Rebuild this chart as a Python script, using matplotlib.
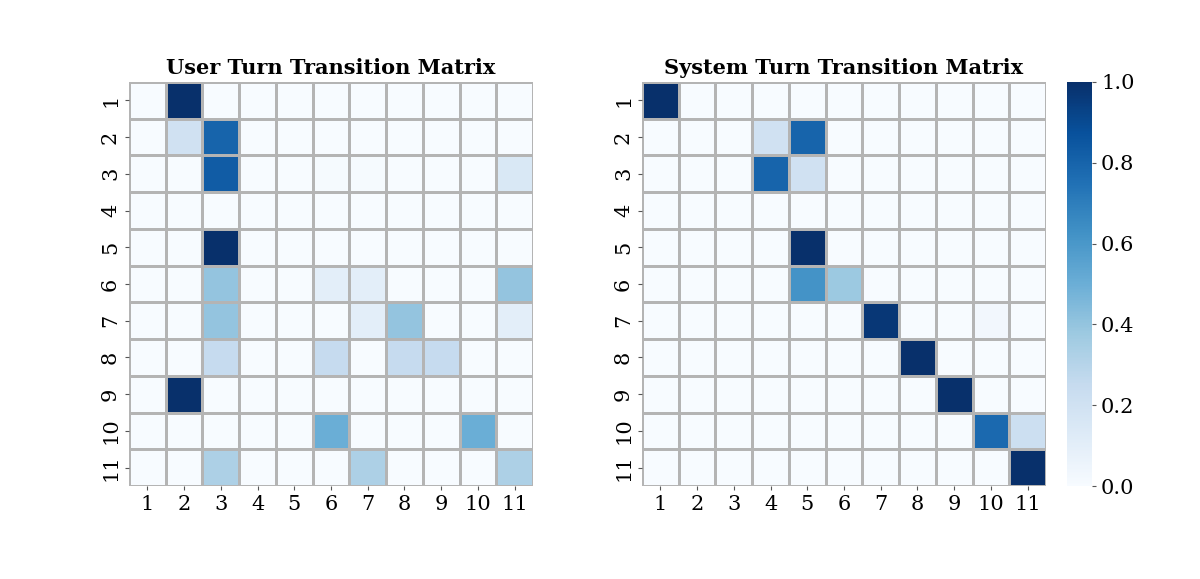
import numpy as np
import matplotlib
matplotlib.use('Agg')
import matplotlib.pyplot as plt
import seaborn as sns

# Labels for the 11 turn types
labels = [str(i) for i in range(1, 12)]

# User turn transition probabilities (row = from, col = to)
user_matrix = [
    [0, 1.0, 0, 0, 0, 0, 0, 0, 0, 0, 0],
    [0, 0.2, 0.8, 0, 0, 0, 0, 0, 0, 0, 0],
    [0, 0, 0.83, 0, 0, 0.01, 0.01, 0, 0, 0, 0.15],
    [0, 0, 0, 0, 0, 0, 0, 0, 0, 0, 0],
    [0, 0, 1.0, 0, 0, 0, 0, 0, 0, 0, 0],
    [0, 0, 0.4, 0, 0, 0.1, 0.1, 0, 0, 0, 0.4],
    [0, 0, 0.4, 0, 0, 0, 0.1, 0.4, 0, 0, 0.1],
    [0, 0, 0.25, 0, 0, 0.25, 0, 0.25, 0.25, 0, 0],
    [0, 1.0, 0, 0, 0, 0, 0, 0, 0, 0, 0],
    [0, 0, 0, 0, 0, 0.5, 0, 0, 0, 0.5, 0],
    [0, 0, 0.33, 0, 0, 0, 0.33, 0, 0, 0, 0.33],
]

# System turn transition probabilities
system_matrix = [
    [1.0, 0, 0, 0, 0, 0, 0, 0, 0, 0, 0],
    [0, 0, 0, 0.2, 0.8, 0, 0, 0, 0, 0, 0],
    [0, 0, 0, 0.8, 0.2, 0, 0, 0, 0, 0, 0],
    [0, 0, 0, 0, 0, 0, 0, 0, 0, 0, 0],
    [0, 0, 0, 0, 1.0, 0, 0, 0, 0, 0, 0],
    [0, 0, 0, 0, 0.62, 0.38, 0, 0, 0, 0, 0],
    [0, 0, 0, 0, 0, 0, 0.97, 0, 0, 0.03, 0],
    [0, 0, 0, 0, 0, 0, 0, 1.0, 0, 0, 0],
    [0, 0, 0, 0, 0, 0, 0, 0, 1.0, 0, 0],
    [0, 0, 0, 0, 0, 0, 0, 0, 0, 0.78, 0.22],
    [0, 0, 0, 0, 0, 0, 0, 0, 0, 0, 1.0],
]

plt.rcParams['font.family'] = ['DejaVu Serif']
plt.rcParams['font.size'] = 15

fig = plt.figure(figsize=(12, 5.79), dpi=100)
ax1 = fig.add_axes([0.1075, 0.1606, 0.3367, 0.6978])
ax2 = fig.add_axes([0.535, 0.1606, 0.3367, 0.6978])
cax = fig.add_axes([0.889, 0.1606, 0.021, 0.6978])

sns.heatmap(np.array(user_matrix), ax=ax1, cmap='Blues', vmin=0, vmax=1,
            linewidths=0.9, linecolor='#b4b4b4', cbar=False,
            xticklabels=labels, yticklabels=labels)
sns.heatmap(np.array(system_matrix), ax=ax2, cmap='Blues', vmin=0, vmax=1,
            linewidths=0.9, linecolor='#b4b4b4', cbar_ax=cax,
            xticklabels=labels, yticklabels=labels)

for ax, title in [(ax1, 'User Turn Transition Matrix'),
                  (ax2, 'System Turn Transition Matrix')]:
    ax.set_title(title, fontsize=15, fontweight='bold', pad=6)
    ax.tick_params(axis='both', labelsize=15, length=3, color='#555555')
    plt.setp(ax.get_yticklabels(), rotation=90, va='center')
    plt.setp(ax.get_xticklabels(), rotation=0)

cax.tick_params(labelsize=15, length=3, color='#555555')
cax.set_yticks([0.0, 0.2, 0.4, 0.6, 0.8, 1.0])
cax.set_yticklabels(['0.0', '0.2', '0.4', '0.6', '0.8', '1.0'])

fig.savefig('out.png', dpi=100)
